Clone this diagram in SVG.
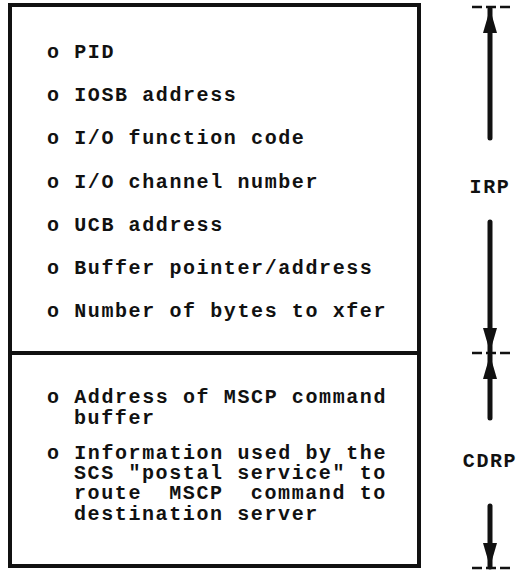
<svg xmlns="http://www.w3.org/2000/svg" width="525" height="571" viewBox="0 0 525 571">
<style>
  .t { font-family: "Liberation Mono", "Courier New", monospace; font-size: 20px; font-weight: bold; letter-spacing: 1.6px; fill: #111; white-space: pre; }
  .box { fill: none; stroke: #111; stroke-width: 4; }
  .ln { stroke: #111; stroke-width: 5; stroke-linecap: round; }
  .tick { stroke: #111; stroke-width: 2.5; stroke-dasharray: 10 4; }
</style>
<defs>
  <marker id="ah" viewBox="0 0 24 14" refX="24" refY="7" markerWidth="24" markerHeight="14" orient="auto" markerUnits="userSpaceOnUse">
    <path d="M0,0 L24,7 L0,14 Z" fill="#111"/>
  </marker>
</defs>
<rect width="525" height="571" fill="#fff"/>
<g id="irp">
  <rect class="box" x="10" y="5" width="409" height="348"/>
  <text class="t" x="47" y="58">o PID</text>
  <text class="t" x="47" y="101">o IOSB address</text>
  <text class="t" x="47" y="144">o I/O function code</text>
  <text class="t" x="47" y="188">o I/O channel number</text>
  <text class="t" x="47" y="231">o UCB address</text>
  <text class="t" x="47" y="274">o Buffer pointer/address</text>
  <text class="t" x="47" y="317">o Number of bytes to xfer</text>
</g>
<g id="cdrp">
  <rect class="box" x="10" y="353" width="409" height="213"/>
  <text class="t" x="47" y="403">o Address of MSCP command</text>
  <text class="t" x="74" y="424">buffer</text>
  <text class="t" x="47" y="459">o Information used by the</text>
  <text class="t" x="74" y="479">SCS "postal service" to</text>
  <text class="t" x="74" y="499" xml:space="preserve">route  MSCP  command to</text>
  <text class="t" x="74" y="520">destination server</text>
</g>
<g id="labels">
  <text class="t" x="490" y="193" text-anchor="middle">IRP</text>
  <text class="t" x="490" y="467" text-anchor="middle">CDRP</text>
</g>
<g id="connectors">
  <line class="tick" x1="472" y1="7" x2="510" y2="7"/>
  <line class="tick" x1="472" y1="353" x2="510" y2="353"/>
  <line class="tick" x1="472" y1="568" x2="510" y2="568"/>
  <line class="ln" x1="490" y1="138" x2="490" y2="9" marker-end="url(#ah)"/>
  <line class="ln" x1="490" y1="222" x2="490" y2="352" marker-end="url(#ah)"/>
  <line class="ln" x1="490" y1="418" x2="490" y2="355" marker-end="url(#ah)"/>
  <line class="ln" x1="490" y1="506" x2="490" y2="567" marker-end="url(#ah)"/>
</g>
</svg>
